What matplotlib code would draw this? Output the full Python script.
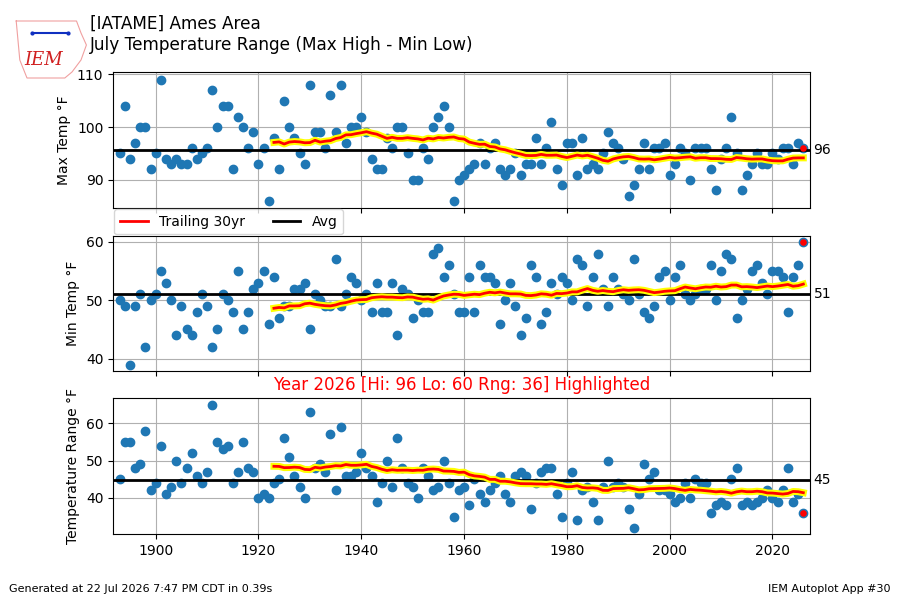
import numpy as np
import pandas as pd
import matplotlib
matplotlib.use("Agg")
import matplotlib.pyplot as plt
import matplotlib.patheffects as pe
from matplotlib.lines import Line2D

years = np.arange(1893, 2027)

max_high = [
    95, 104, 94, 97, 100, 100, 92,
    95, 109, 94, 93, 94, 93, 93, 96, 94, 95,
    96, 107, 100, 104, 104, 92, 102, 100, 96, 99,
    93, 96, 86, 98, 92, 105, 100, 98, 95, 93,
    108, 99, 99, 96, 106, 99, 108, 97, 100, 100,
    102, 99, 94, 92, 92, 98, 96, 100, 100, 95,
    90, 90, 96, 94, 100, 102, 104, 100, 86, 90,
    91, 92, 93, 97, 93, 96, 97, 92, 91, 92,
    95, 91, 93, 93, 98, 93, 96, 101, 92, 89,
    97, 97, 91, 98, 92, 93, 92, 95, 99, 97,
    96, 94, 87, 89, 92, 97, 92, 96, 96, 97,
    91, 93, 96, 95, 90, 96, 96, 96, 92, 88,
    94, 96, 102, 95, 88, 91, 93, 95, 93, 93,
    95, 94, 96, 96, 93, 97, 96,
]

min_low = [
    50, 49, 39, 49, 51, 42, 50,
    51, 55, 53, 50, 44, 49, 45, 44, 48, 51,
    49, 42, 45, 51, 50, 48, 55, 45, 48, 52,
    53, 55, 46, 54, 47, 49, 49, 52, 52, 53,
    45, 51, 50, 49, 49, 57, 49, 51, 54, 53,
    50, 51, 48, 53, 48, 48, 53, 44, 52, 51,
    47, 50, 48, 48, 58, 59, 54, 56, 51, 48,
    48, 54, 48, 56, 54, 54, 53, 46, 50, 53,
    49, 44, 47, 56, 54, 46, 48, 53, 51, 54,
    53, 50, 57, 56, 49, 54, 58, 52, 49, 54,
    52, 51, 50, 57, 51, 48, 47, 49, 54, 55,
    50, 54, 56, 51, 50, 51, 52, 52, 56, 50,
    55, 58, 57, 47, 50, 52, 55, 56, 53, 51,
    55, 55, 54, 48, 54, 56, 60,
]

highlight_year = 2026
ylabels = ["Max Temp °F", "Min Temp °F", "Temperature Range °F"]

df = pd.DataFrame({"max_high": max_high, "min_low": min_low}, index=years)
df["rng"] = df["max_high"] - df["min_low"]

fig = plt.figure(figsize=(9, 6), dpi=100)
left, width = 0.1256, 0.7744
axes = [
    fig.add_axes([left, 0.6528, width, 0.2267]),
    fig.add_axes([left, 0.3822, width, 0.2250]),
    fig.add_axes([left, 0.1100, width, 0.2261]),
]

for i, col in enumerate(["max_high", "min_low", "rng"]):
    ax = axes[i]
    vals = df[col]
    ax.scatter(df.index, vals, color="tab:blue", s=36, zorder=2)
    trail = vals.rolling(30).mean().shift(1)
    ax.plot(df.index, trail, color="r", lw=2, zorder=4,
            path_effects=[pe.Stroke(linewidth=5, foreground="yellow"), pe.Normal()])
    avg = vals.mean()
    ax.axhline(avg, color="k", lw=2, zorder=3)
    ax.scatter([highlight_year], [vals.loc[highlight_year]], color="r", s=14, zorder=5)
    ax.text(1.005, avg, "%.0f" % avg, transform=ax.get_yaxis_transform(),
            va="center", ha="left", fontsize=10)
    ax.set_ylabel(ylabels[i])
    ax.grid(True)
    ax.set_xlim(1891.7, 2027.3)
    ax.set_xticks([1900, 1920, 1940, 1960, 1980, 2000, 2020])
    if i < 2:
        ax.set_xticklabels([])

axes[0].set_ylim(84.6, 110.4)
axes[0].set_yticks([90, 100, 110])
axes[1].set_yticks([40, 50, 60])
axes[2].set_yticks([40, 50, 60])

handles = [Line2D([], [], color="r", lw=2), Line2D([], [], color="k", lw=2)]
axes[1].legend(handles, ["Trailing 30yr", "Avg"], loc="lower left",
               bbox_to_anchor=(0, 1.0), ncol=2, borderaxespad=0.1, fontsize=10)

hy = df.loc[highlight_year]
axes[2].set_title("Year %s [Hi: %.0f Lo: %.0f Rng: %.0f] Highlighted" %
                  (highlight_year, hy["max_high"], hy["min_low"], hy["rng"]),
                  color="r", fontsize=12)

fig.text(0.1, 0.975, "[IATAME] Ames Area\nJuly Temperature Range (Max High - Min Low)",
         ha="left", va="top", fontsize=12.2)

# simple logo approximation
outline_x = [0.018, 0.085, 0.09, 0.096, 0.09, 0.08, 0.072, 0.03, 0.022, 0.018]
outline_y = [0.965, 0.965, 0.945, 0.925, 0.9, 0.88, 0.87, 0.87, 0.9, 0.965]
fig.add_artist(plt.Line2D(outline_x, outline_y, color="#f0a0a0", lw=0.8,
                          transform=fig.transFigure))
fig.text(0.048, 0.9, "IEM", color="#d02020", fontsize=13, family="DejaVu Serif",
         style="italic", ha="center", va="center")
fig.add_artist(plt.Line2D([0.035, 0.075], [0.945, 0.945], color="#1030c0", lw=1.5,
                          marker="o", markersize=2, transform=fig.transFigure))

fig.text(0.01, 0.01, "Generated at 22 Jul 2026 7:47 PM CDT in 0.39s",
         fontsize=8, ha="left", va="bottom")
fig.text(0.99, 0.01, "IEM Autoplot App #30", fontsize=8, ha="right", va="bottom")

fig.savefig("out.png", dpi=100)
